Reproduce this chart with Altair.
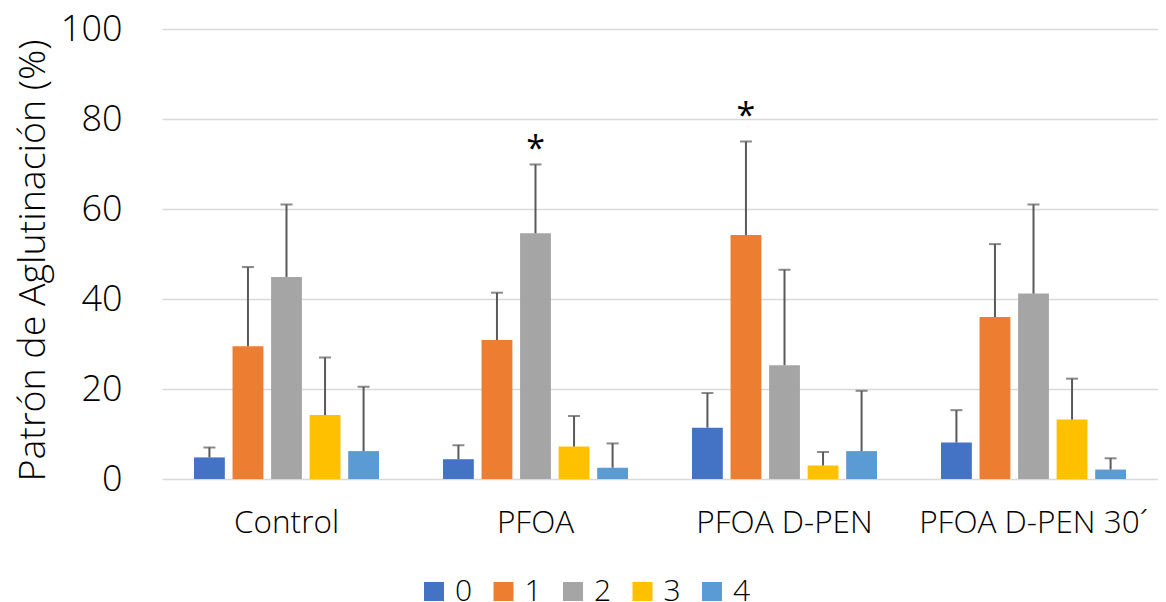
import altair as alt
import pandas as pd

FONT = "Open Sans"
W = 300

categories = ["Control", "PFOA", "PFOA D-PEN", "PFOA D-PEN 30´"]
series = ["0", "1", "2", "3", "4"]
colors = ["#4472C4", "#ED7D31", "#A5A5A5", "#FFC000", "#5B9BD5"]

# mean values per series (one entry per category)
s0 = [4.8, 4.4, 11.4, 8.1]
s1 = [29.5, 30.9, 54.2, 36.0]
s2 = [44.9, 54.6, 25.3, 41.2]
s3 = [14.2, 7.2, 3.0, 13.2]
s4 = [6.2, 2.5, 6.2, 2.1]

# upper error (SD) per series
e0 = [2.2, 3.1, 7.7, 7.2]
e1 = [17.6, 10.5, 20.8, 16.2]
e2 = [16.1, 15.3, 21.2, 19.8]
e3 = [12.8, 6.8, 3.0, 9.1]
e4 = [14.3, 5.4, 13.4, 2.5]

# significance marks
star_cats = ["PFOA", "PFOA D-PEN"]
star_series = ["2", "1"]
star_y = [71.0, 78.2]

vals = [s0, s1, s2, s3, s4]
errs = [e0, e1, e2, e3, e4]
rows = []
for si, s in enumerate(series):
    for ci, c in enumerate(categories):
        v = vals[si][ci]
        rows.append({"cat": c, "series": s, "value": v, "err": v + errs[si][ci]})
df = pd.DataFrame(rows)
stars = pd.DataFrame({"cat": star_cats, "series": star_series, "y": star_y, "t": ["*", "*"]})

x = alt.X(
    "cat:N",
    sort=categories,
    title=None,
    scale=alt.Scale(domain=categories, paddingInner=0.257, paddingOuter=0.1285),
    axis=alt.Axis(
        labelFontSize=31.5, labelFont=FONT, labelFontWeight=W, labelColor="black",
        labelPadding=28, labelLimit=0,
        labelAngle=0, domain=False, ticks=False,
    ),
)
xo = alt.XOffset("series:N", scale=alt.Scale(domain=series, paddingInner=0.2, paddingOuter=0))

y = alt.Y(
    "value:Q",
    scale=alt.Scale(domain=[0, 100], nice=False),
    title="Patrón de Aglutinación (%)",
    axis=alt.Axis(
        values=[0, 20, 40, 60, 80, 100],
        labelFontSize=36, labelFont=FONT, labelFontWeight=W, labelColor="black", labelPadding=40,
        domain=False, ticks=False, gridColor="#D9D9D9", gridWidth=1.5,
        titleFontSize=37.5, titleFont=FONT, titleFontWeight=W, titleColor="black",
        titlePadding=8, titleY=231,
    ),
)

bars = alt.Chart(df).mark_bar().encode(
    x=x,
    xOffset=xo,
    y=y,
    color=alt.Color(
        "series:N",
        scale=alt.Scale(domain=series, range=colors),
        legend=alt.Legend(
            title=None, orient="none", direction="horizontal",
            legendX=257, legendY=548,
            symbolType="square", symbolSize=400, symbolStrokeWidth=0,
            labelFontSize=30, labelFont=FONT, labelFontWeight=W, labelColor="black",
            labelOffset=6, columnPadding=15.5,
        ),
    ),
)

rules = alt.Chart(df).mark_rule(color="#595959", strokeWidth=2).encode(
    x=x, xOffset=xo, y=alt.Y("value:Q"), y2="err:Q"
)
caps = alt.Chart(df).mark_tick(color="#595959", thickness=2, size=12).encode(
    x=x, xOffset=xo, y=alt.Y("err:Q")
)
star_marks = alt.Chart(stars).mark_text(
    fontSize=34, font=FONT, color="black", baseline="alphabetic"
).encode(x=x, xOffset=xo, y=alt.Y("y:Q"), text="t:N")

chart = alt.layer(bars, rules, caps, star_marks).properties(
    width=996,
    height=450,
    padding={"left": 154, "top": 21, "right": 0, "bottom": 122},
    autosize=alt.AutoSizeParams(type="none"),
).configure_view(stroke=None)

chart.save("out.html", embed_options={"renderer": "svg", "actions": False})
